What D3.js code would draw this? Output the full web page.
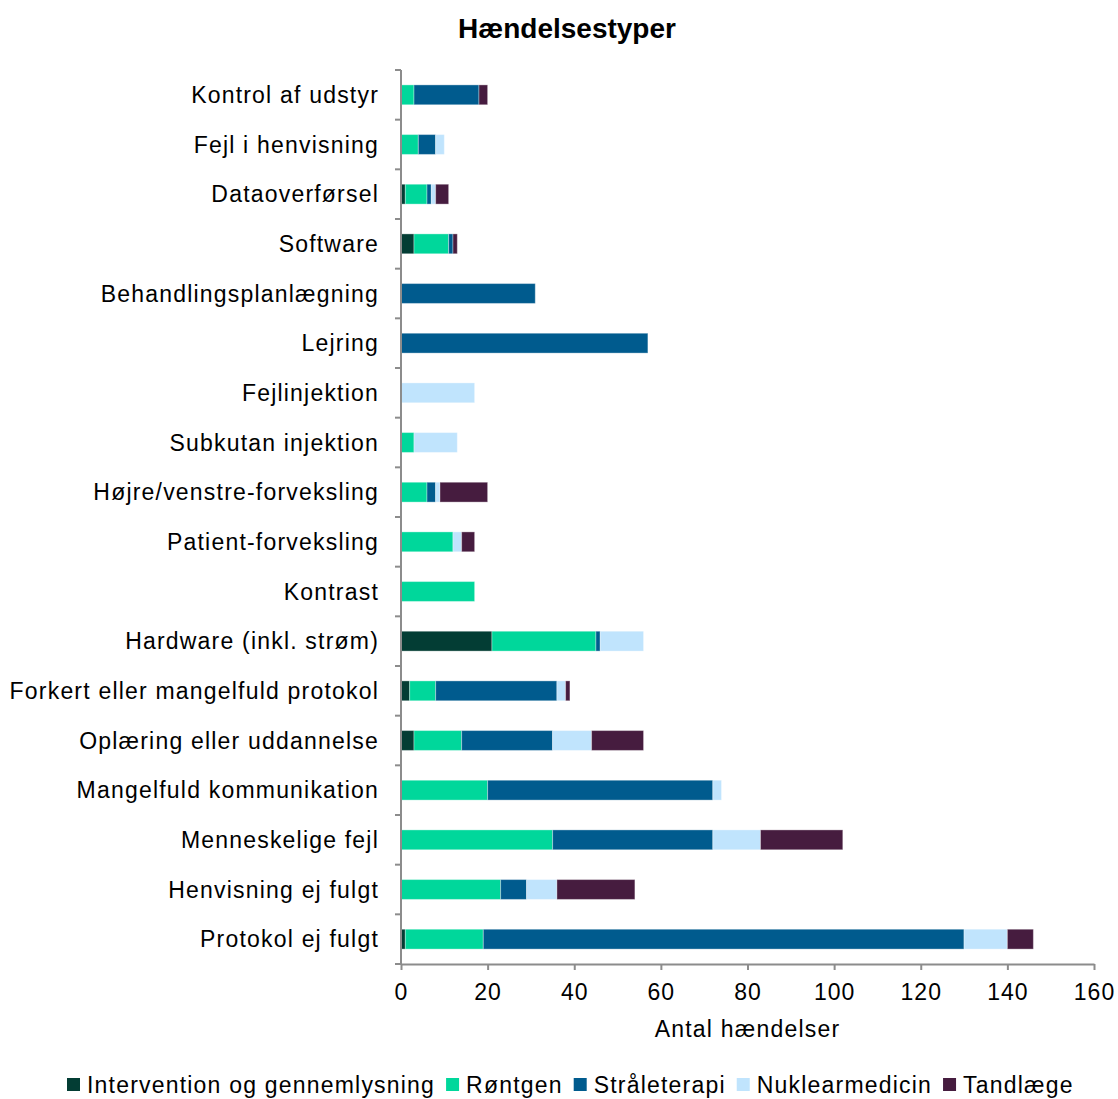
<!DOCTYPE html>
<html>
<head>
<meta charset="utf-8">
<script src="https://cdn.jsdelivr.net/npm/d3@7"></script>
<style>
  body { margin: 0; background: #fff; }
  svg { font-family: "Liberation Sans", Arial, sans-serif; }
</style>
</head>
<body>
<div id="chart"></div>
<script>
'use strict';

const categories = [
  "Kontrol af udstyr", "Fejl i henvisning", "Dataoverførsel", "Software",
  "Behandlingsplanlægning", "Lejring", "Fejlinjektion", "Subkutan injektion",
  "Højre/venstre-forveksling", "Patient-forveksling", "Kontrast",
  "Hardware (inkl. strøm)", "Forkert eller mangelfuld protokol",
  "Oplæring eller uddannelse", "Mangelfuld kommunikation",
  "Menneskelige fejl", "Henvisning ej fulgt", "Protokol ej fulgt"
];
const seriesNames = ["Intervention og gennemlysning", "Røntgen", "Stråleterapi", "Nuklearmedicin", "Tandlæge"];
const seriesColors = ["#033d34", "#00d79b", "#005b8e", "#c0e4fd", "#461c3f"];

const intervention = [0, 0, 1, 3, 0, 0, 0, 0, 0, 0, 0, 21, 2, 3, 0, 0, 0, 1];
const rontgen      = [3, 4, 5, 8, 0, 0, 0, 3, 6, 12, 17, 24, 6, 11, 20, 35, 23, 18];
const straale      = [15, 4, 1, 1, 31, 57, 0, 0, 2, 0, 0, 1, 28, 21, 52, 37, 6, 111];
const nuklear      = [0, 2, 1, 0, 0, 0, 17, 10, 1, 2, 0, 10, 2, 9, 2, 11, 7, 10];
const tandlaege    = [2, 0, 3, 1, 0, 0, 0, 0, 11, 3, 0, 0, 1, 12, 0, 19, 18, 6];
const xTicks = [0, 20, 40, 60, 80, 100, 120, 140, 160];

const width = 1118, height = 1099;
const margin = {top: 70, right: 25, bottom: 135, left: 401};

const rows = categories.map((c, i) => ({
  cat: c,
  vals: [intervention[i], rontgen[i], straale[i], nuklear[i], tandlaege[i]]
}));
const keys = d3.range(seriesNames.length);
const stack = d3.stack().keys(keys).value((d, k) => d.vals[k]);
const layers = stack(rows);

const svg = d3.select("#chart").append("svg")
  .attr("width", width)
  .attr("height", height);

const x = d3.scaleLinear()
  .domain([0, 160])
  .range([margin.left, 1094]);

const y = d3.scaleBand()
  .domain(categories)
  .range([margin.top, height - margin.bottom])
  .paddingInner(0.6)
  .paddingOuter(0.3);

// title
svg.append("text")
  .attr("x", 567)
  .attr("y", 38)
  .attr("text-anchor", "middle")
  .style("font-weight", "bold")
  .style("font-size", "28px")
  .attr("fill", "#000")
  .text("Hændelsestyper");

// bars
svg.append("g")
  .selectAll("g")
  .data(layers)
  .join("g")
  .attr("fill", d => seriesColors[d.key])
  .selectAll("rect")
  .data(d => d.filter(s => s[1] - s[0] > 0))
  .join("rect")
    .attr("x", d => x(d[0]))
    .attr("y", d => y(d.data.cat))
    .attr("width", d => x(d[1]) - x(d[0]))
    .attr("height", y.bandwidth())
    .attr("stroke", "#ffffff")
    .attr("stroke-opacity", 0.35)
    .attr("stroke-width", 1);

// y axis
const yAxisG = svg.append("g")
  .attr("transform", `translate(${margin.left},0)`);
yAxisG.append("line")
  .attr("x1", 0).attr("x2", 0)
  .attr("y1", margin.top).attr("y2", height - margin.bottom)
  .attr("stroke", "#8c8c8c").attr("stroke-width", 2);
const bounds = d3.range(categories.length + 1).map(i => margin.top + i * (height - margin.top - margin.bottom) / categories.length);
yAxisG.selectAll(".ytick")
  .data(bounds)
  .join("line")
  .attr("class", "ytick")
  .attr("x1", -6).attr("x2", 0)
  .attr("y1", d => d).attr("y2", d => d)
  .attr("stroke", "#8c8c8c").attr("stroke-width", 2);
yAxisG.selectAll(".ylab")
  .data(categories)
  .join("text")
  .attr("class", "ylab")
  .attr("x", -22)
  .attr("y", d => y(d) + y.bandwidth() / 2)
  .attr("dy", "0.36em")
  .attr("text-anchor", "end")
  .style("font-size", "23px")
  .style("letter-spacing", "1.2px")
  .attr("fill", "#000")
  .text(d => d);

// x axis
const xAxis = svg.append("g")
  .attr("transform", `translate(0,${height - margin.bottom})`)
  .call(d3.axisBottom(x).tickValues(xTicks).tickSize(6).tickSizeOuter(0).tickPadding(14));
xAxis.select(".domain").attr("stroke", "#8c8c8c").attr("stroke-width", 2);
xAxis.selectAll(".tick line").attr("stroke", "#8c8c8c").attr("stroke-width", 2);
xAxis.selectAll(".tick text")
  .style("font-size", "23px")
  .style("letter-spacing", "1px")
  .style("font-family", "Liberation Sans, Arial, sans-serif")
  .attr("fill", "#000");

svg.append("text")
  .attr("x", (x.range()[0] + x.range()[1]) / 2)
  .attr("y", 1037)
  .attr("text-anchor", "middle")
  .style("font-size", "23px")
  .style("letter-spacing", "1.2px")
  .attr("fill", "#000")
  .text("Antal hændelser");

// legend
const legend = svg.append("g").attr("transform", "translate(67,1093)");
let lx = 0;
seriesNames.forEach((name, i) => {
  const g = legend.append("g").attr("transform", `translate(${lx},0)`);
  g.append("rect")
    .attr("x", 0).attr("y", -15)
    .attr("width", 13).attr("height", 13)
    .attr("fill", seriesColors[i]);
  const t = g.append("text")
    .attr("x", 20).attr("y", 0)
    .style("font-size", "23px")
    .style("letter-spacing", "1.2px")
    .attr("fill", "#000")
    .text(name);
  lx += 20 + t.node().getComputedTextLength() + 11;
});
</script>
</body>
</html>
